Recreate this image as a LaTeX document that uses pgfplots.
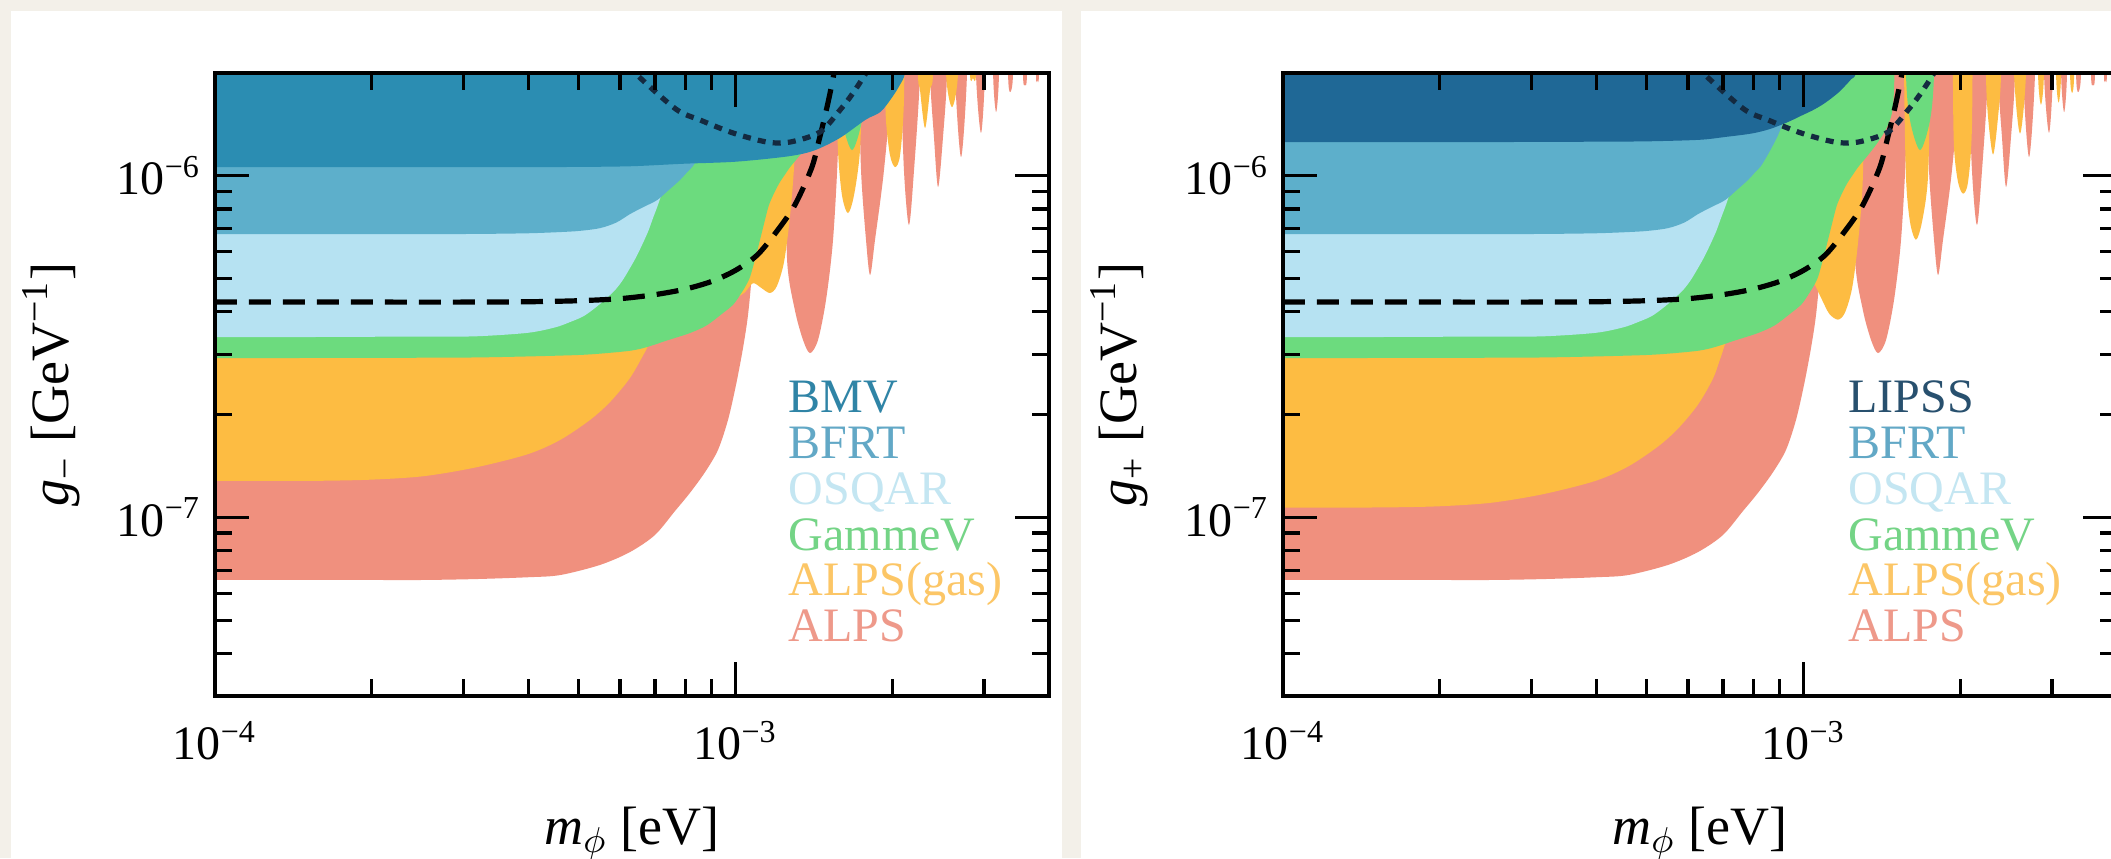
\documentclass[border=0pt]{standalone}
\usepackage{fontspec}
\setmainfont{Liberation Serif}
\newfontfamily\legfam{Liberation Serif}
\usepackage{pgfplots}
\pgfplotsset{compat=1.18}
\definecolor{bgbeige}{HTML}{F3F0E9}
\definecolor{cbmv}{HTML}{2B8DB2}
\definecolor{clipss}{HTML}{1F6896}
\definecolor{cbfrt}{HTML}{5DAFCB}
\definecolor{cosqar}{HTML}{B6E2F2}
\definecolor{cgam}{HTML}{6CDB7E}
\definecolor{cgas}{HTML}{FDBC42}
\definecolor{calps}{HTML}{F0907E}
\definecolor{tbmv}{HTML}{2F84A6}
\definecolor{tlipss}{HTML}{28506E}
\definecolor{tbfrt}{HTML}{62A8C6}
\definecolor{tosqar}{HTML}{C4E6F2}
\definecolor{tgam}{HTML}{74D486}
\definecolor{tgas}{HTML}{FCC666}
\definecolor{talps}{HTML}{EE998A}
\definecolor{dotcol}{HTML}{142A40}
\newcommand\tickfont{\legfam\fontsize{12}{14}\selectfont}
\newcommand\labfont{\legfam\fontsize{13.5}{16}\selectfont}
\newcommand\legfont{\legfam\fontsize{12}{12}\selectfont}
\begin{document}
\begin{tikzpicture}
\useasboundingbox (0,0) rectangle (527.75pt,214.5pt);
\clip (0,0) rectangle (527.75pt,214.5pt);
\fill[bgbeige] (0,0) rectangle (527.75pt,214.5pt);
\fill[white] (2.75pt,0) rectangle (265.5pt,211.75pt);
\fill[white] (270.25pt,0) rectangle (527.75pt,211.75pt);

% ================= LEFT PANEL (g-) =================
\begin{axis}[at={(53.75pt,40.5pt)}, anchor=south west,
    scale only axis, width=208.5pt, height=155.75pt,
    xmode=log, ymode=log, xmin=1e-4, xmax=4e-3, ymin=3e-8, ymax=2e-6,
    axis on top,
    axis line style={line width=1pt, black},
    tick align=inside, major tick length=8.5pt, minor tick length=4.25pt,
    every tick/.style={black, line width=0.8pt},
    xtick={1e-4,1e-3}, xticklabels={10\textsuperscript{−4},10\textsuperscript{−3}},
    ytick={1e-7,1e-6}, yticklabels={10\textsuperscript{−7},10\textsuperscript{−6}},
    minor xtick={2e-4,3e-4,4e-4,5e-4,6e-4,7e-4,8e-4,9e-4,2e-3,3e-3},
    minor ytick={4e-8,5e-8,6e-8,7e-8,8e-8,9e-8,2e-7,3e-7,4e-7,5e-7,6e-7,7e-7,8e-7,9e-7},
    tick label style={font=\tickfont},
    xticklabel style={yshift=-2.75pt},
    xlabel style={at={(axis description cs:0.5,-0.22)}, anchor=center, font=\labfont},
    ylabel style={at={(axis description cs:-0.196,0.5)}, anchor=center, font=\labfont},
    xlabel={\textit{m}\textsubscript{$\phi$} [eV]},
    ylabel={\textit{g}\textsubscript{−} [GeV\textsuperscript{−1}]}]
% ALPS main
\addplot[draw=none, fill=calps, smooth, tension=0.5] coordinates {(0.9e-4,6.56e-8) (1.259e-4,6.56e-8) (1.585e-4,6.56e-8) (1.995e-4,6.56e-8) (2.512e-4,6.56e-8) (3.162e-4,6.60e-8) (3.981e-4,6.68e-8) (4.60e-4,6.78e-8) (5.49e-4,7.26e-8) (6.27e-4,7.92e-8) (7.0e-4,8.88e-8) (7.65e-4,1.044e-7) (8.17e-4,1.179e-7) (8.74e-4,1.358e-7) (9.25e-4,1.575e-7) (9.67e-4,1.928e-7) (1.0019e-3,2.442e-7) (1.0335e-3,3.133e-7) (1.0566e-3,3.913e-7) (1.075e-3,5.19e-7) (1.0896e-3,7.42e-7) (1.099e-3,1.19e-6) (1.102e-3,2.5e-6) (1.104e-3,4e-6) (0.9e-4,4e-6)};
% ALPS resonances
\addplot[draw=none, fill=calps, smooth, tension=0.5] coordinates {(1.250e-3,4e-6) (1.250e-3,2.5e-6) (1.253e-3,1.2e-6) (1.256e-3,5.67e-7) (1.30e-3,4.047e-7) (1.348e-3,3.306e-7) (1.390e-3,3.028e-7) (1.440e-3,3.306e-7) (1.492e-3,4.33e-7) (1.539e-3,6.49e-7) (1.573e-3,1.19e-6) (1.587e-3,2.5e-6) (1.587e-3,4e-6)};
\addplot[draw=none, fill=calps, smooth, tension=0.5] coordinates {(1.727e-3,4e-6) (1.727e-3,2.0e-6) (1.742e-3,1.04e-6) (1.781e-3,6.49e-7) (1.813e-3,5.125e-7) (1.853e-3,6.49e-7) (1.928e-3,1.04e-6) (1.998e-3,2.0e-6) (1.998e-3,4e-6)};
\addplot[draw=none, fill=calps, smooth, tension=0.5] coordinates {(2.079e-3,4e-6) (2.079e-3,2.0e-6) (2.106e-3,1.04e-6) (2.153e-3,7.18e-7) (2.202e-3,1.04e-6) (2.261e-3,2.0e-6) (2.261e-3,4e-6)};
\addplot[draw=none, fill=calps, smooth, tension=0.5] coordinates {(2.364e-3,4e-6) (2.364e-3,2.0e-6) (2.405e-3,1.299e-6) (2.449e-3,9.27e-7) (2.503e-3,1.299e-6) (2.548e-3,2.0e-6) (2.548e-3,4e-6)};
\addplot[draw=none, fill=calps, smooth, tension=0.5] coordinates {(2.640e-3,4e-6) (2.640e-3,2.0e-6) (2.711e-3,1.135e-6) (2.784e-3,2.0e-6) (2.784e-3,4e-6)};
\addplot[draw=none, fill=calps, smooth, tension=0.5] coordinates {(2.896e-3,4e-6) (2.896e-3,2.0e-6) (2.961e-3,1.335e-6) (3.013e-3,2.0e-6) (3.013e-3,4e-6)};
\addplot[draw=none, fill=calps, smooth, tension=0.5] coordinates {(3.124e-3,4e-6) (3.124e-3,2.0e-6) (3.166e-3,1.537e-6) (3.207e-3,2.0e-6) (3.207e-3,4e-6)};
\addplot[draw=none, fill=calps, smooth, tension=0.5] coordinates {(3.338e-3,4e-6) (3.338e-3,2.0e-6) (3.368e-3,1.759e-6) (3.412e-3,2.0e-6) (3.412e-3,4e-6)};
\addplot[draw=none, fill=calps, smooth, tension=0.5] coordinates {(3.565e-3,4e-6) (3.565e-3,2.0e-6) (3.597e-3,1.845e-6) (3.63e-3,2.0e-6) (3.63e-3,4e-6)};
\addplot[draw=none, fill=calps, smooth, tension=0.5] coordinates {(3.777e-3,4e-6) (3.777e-3,2.0e-6) (3.794e-3,1.907e-6) (3.828e-3,2.0e-6) (3.828e-3,4e-6)};
% ALPS(gas)
\addplot[draw=none, fill=cgas, smooth, tension=0.5] coordinates {(0.9e-4,1.279e-7) (1.259e-4,1.279e-7) (1.585e-4,1.28e-7) (1.995e-4,1.29e-7) (2.512e-4,1.32e-7) (3.162e-4,1.40e-7) (3.981e-4,1.53e-7) (4.60e-4,1.685e-7) (5.25e-4,1.928e-7) (5.74e-4,2.177e-7) (6.27e-4,2.56e-7) (6.699e-4,3.049e-7) (6.91e-4,3.306e-7) (7.4e-4,3.5e-7) (8.0e-4,3.7e-7) (8.6e-4,3.9e-7) (9.2e-4,4.1e-7) (9.8e-4,4.3e-7) (1.04e-3,4.55e-7) (1.08e-3,4.85e-7) (1.12e-3,4.7e-7) (1.164e-3,4.54e-7) (1.20e-3,4.75e-7) (1.239e-3,5.594e-7) (1.273e-3,7.68e-7) (1.30e-3,1.19e-6) (1.31e-3,2.5e-6) (1.312e-3,4e-6) (0.9e-4,4e-6)};
\addplot[draw=none, fill=cgas, smooth, tension=0.5] coordinates {(1.560e-3,4e-6) (1.560e-3,2.0e-6) (1.573e-3,1.19e-6) (1.601e-3,8.786e-7) (1.644e-3,7.78e-7) (1.689e-3,8.786e-7) (1.734e-3,1.19e-6) (1.750e-3,2.0e-6) (1.750e-3,4e-6)};
\addplot[draw=none, fill=cgas, smooth, tension=0.5] coordinates {(1.936e-3,4e-6) (1.936e-3,2.0e-6) (1.945e-3,1.457e-6) (1.980e-3,1.15e-6) (2.025e-3,1.061e-6) (2.070e-3,1.15e-6) (2.106e-3,1.667e-6) (2.116e-3,4e-6)};
\addplot[draw=none, fill=cgas, smooth, tension=0.5] coordinates {(2.241e-3,4e-6) (2.241e-3,2.0e-6) (2.261e-3,1.783e-6) (2.312e-3,1.38e-6) (2.364e-3,1.783e-6) (2.395e-3,2.0e-6) (2.395e-3,4e-6)};
\addplot[draw=none, fill=cgas, smooth, tension=0.5] coordinates {(2.537e-3,4e-6) (2.537e-3,2.0e-6) (2.605e-3,1.59e-6) (2.675e-3,2.0e-6) (2.675e-3,4e-6)};
\addplot[draw=none, fill=cgas, smooth, tension=0.5] coordinates {(2.821e-3,4e-6) (2.821e-3,2.0e-6) (2.858e-3,1.933e-6) (2.896e-3,2.0e-6) (2.896e-3,4e-6)};
% GammeV
\addplot[draw=none, fill=cgam, smooth, tension=0.5] coordinates {(0.9e-4,2.928e-7) (1.259e-4,2.928e-7) (1.585e-4,2.93e-7) (1.995e-4,2.93e-7) (2.512e-4,2.935e-7) (3.162e-4,2.94e-7) (3.981e-4,2.96e-7) (5.012e-4,2.99e-7) (5.66e-4,3.028e-7) (6.31e-4,3.08e-7) (6.76e-4,3.154e-7) (7.4e-4,3.3e-7) (8.17e-4,3.465e-7) (8.8e-4,3.65e-7) (9.46e-4,3.966e-7) (9.9e-4,4.2e-7) (1.02e-3,4.478e-7) (1.045e-3,4.75e-7) (1.066e-3,5.055e-7) (1.09e-3,5.7e-7) (1.114e-3,6.49e-7) (1.137e-3,7.35e-7) (1.159e-3,8.21e-7) (1.19e-3,9.0e-7) (1.217e-3,9.59e-7) (1.245e-3,1.01e-6) (1.273e-3,1.061e-6) (1.33e-3,1.15e-6) (1.390e-3,1.256e-6) (1.446e-3,1.389e-6) (1.486e-3,1.611e-6) (1.50e-3,2.5e-6) (1.505e-3,4e-6) (0.9e-4,4e-6)};
\addplot[draw=none, fill=cgam, smooth, tension=0.5] coordinates {(1.573e-3,4e-6) (1.573e-3,2.0e-6) (1.601e-3,1.457e-6) (1.674e-3,1.19e-6) (1.750e-3,1.457e-6) (1.781e-3,2.0e-6) (1.781e-3,4e-6)};
% OSQAR
\addplot[draw=none, fill=cosqar, smooth, tension=0.5] coordinates {(0.9e-4,3.373e-7) (1.259e-4,3.373e-7) (1.585e-4,3.375e-7) (1.995e-4,3.38e-7) (2.512e-4,3.385e-7) (3.162e-4,3.39e-7) (3.981e-4,3.47e-7) (4.5e-4,3.6e-7) (4.808e-4,3.733e-7) (5.1e-4,3.88e-7) (5.37e-4,4.102e-7) (5.6e-4,4.33e-7) (5.868e-4,4.63e-7) (6.07e-4,4.95e-7) (6.27e-4,5.372e-7) (6.45e-4,5.8e-7) (6.64e-4,6.36e-7) (6.8e-4,6.9e-7) (6.94e-4,7.52e-7) (7.07e-4,8.1e-7) (7.19e-4,8.727e-7) (7.3e-4,9.4e-7) (7.384e-4,1.04e-6) (7.45e-4,1.2e-6) (7.52e-4,1.457e-6) (7.55e-4,2.5e-6) (7.58e-4,4e-6) (0.9e-4,4e-6)};
% BFRT
\addplot[draw=none, fill=cbfrt, smooth, tension=0.5] coordinates {(0.9e-4,6.755e-7) (1.259e-4,6.755e-7) (1.585e-4,6.755e-7) (1.995e-4,6.755e-7) (2.512e-4,6.755e-7) (3.162e-4,6.76e-7) (3.981e-4,6.79e-7) (4.60e-4,6.846e-7) (5.012e-4,6.9e-7) (5.49e-4,7.03e-7) (5.9e-4,7.3e-7) (6.27e-4,7.73e-7) (6.65e-4,8.1e-7) (7.07e-4,8.495e-7) (7.45e-4,9.1e-7) (7.82e-4,9.72e-7) (8.05e-4,1.02e-6) (8.28e-4,1.068e-6) (8.5e-4,1.14e-6) (8.74e-4,1.231e-6) (8.92e-4,1.31e-6) (9.09e-4,1.408e-6) (9.22e-4,1.52e-6) (9.33e-4,1.667e-6) (9.46e-4,2.0e-6) (9.5e-4,2.5e-6) (9.54e-4,4e-6) (0.9e-4,4e-6)};
% BMV
\addplot[draw=none, fill=cbmv, smooth, tension=0.5] coordinates {(0.9e-4,1.061e-6) (1.259e-4,1.061e-6) (1.585e-4,1.061e-6) (1.995e-4,1.061e-6) (2.512e-4,1.061e-6) (3.162e-4,1.061e-6) (3.981e-4,1.061e-6) (5.012e-4,1.062e-6) (6.31e-4,1.067e-6) (7.943e-4,1.085e-6) (1.0e-3,1.10e-6) (1.259e-3,1.14e-6) (1.413e-3,1.185e-6) (1.585e-3,1.29e-6) (1.778e-3,1.46e-6) (1.9e-3,1.54e-6) (2.0e-3,1.70e-6) (2.07e-3,1.85e-6) (2.116e-3,2.0e-6) (2.15e-3,2.5e-6) (2.17e-3,4e-6) (0.9e-4,4e-6)};
% dashed and dotted curves
\addplot[black, line width=1.3pt, dash pattern=on 5.5pt off 3pt, smooth, tension=0.5] coordinates {(1e-4,4.27e-7) (2e-4,4.27e-7) (3e-4,4.27e-7) (4e-4,4.28e-7) (5e-4,4.31e-7) (6e-4,4.37e-7) (7e-4,4.49e-7) (8e-4,4.66e-7) (9e-4,4.91e-7) (1e-3,5.29e-7) (1.1e-3,5.86e-7) (1.2e-3,6.88e-7) (1.3e-3,8.22e-7) (1.4e-3,1.055e-6) (1.45e-3,1.29e-6) (1.5e-3,1.6e-6) (1.54e-3,1.94e-6) (1.56e-3,2.2e-6)};
\addplot[dotcol, line width=1.3pt, dash pattern=on 2pt off 1.8pt, smooth] coordinates {(6.27e-4,2.11e-6) (6.41e-4,2.0e-6) (7.68e-4,1.569e-6) (8.55e-4,1.457e-6) (9.89e-4,1.335e-6) (1.149e-3,1.256e-6) (1.273e-3,1.256e-6) (1.452e-3,1.343e-6) (1.587e-3,1.558e-6) (1.681e-3,1.747e-6) (1.781e-3,2.0e-6) (1.813e-3,2.11e-6)};
\end{axis}

% ================= RIGHT PANEL (g+) =================
\begin{axis}[at={(320.75pt,40.5pt)}, anchor=south west,
    scale only axis, width=208.5pt, height=155.75pt,
    xmode=log, ymode=log, xmin=1e-4, xmax=4e-3, ymin=3e-8, ymax=2e-6,
    axis on top,
    axis line style={line width=1pt, black},
    tick align=inside, major tick length=8.5pt, minor tick length=4.25pt,
    every tick/.style={black, line width=0.8pt},
    xtick={1e-4,1e-3}, xticklabels={10\textsuperscript{−4},10\textsuperscript{−3}},
    ytick={1e-7,1e-6}, yticklabels={10\textsuperscript{−7},10\textsuperscript{−6}},
    minor xtick={2e-4,3e-4,4e-4,5e-4,6e-4,7e-4,8e-4,9e-4,2e-3,3e-3},
    minor ytick={4e-8,5e-8,6e-8,7e-8,8e-8,9e-8,2e-7,3e-7,4e-7,5e-7,6e-7,7e-7,8e-7,9e-7},
    tick label style={font=\tickfont},
    xticklabel style={yshift=-2.75pt},
    xlabel style={at={(axis description cs:0.5,-0.22)}, anchor=center, font=\labfont},
    ylabel style={at={(axis description cs:-0.196,0.5)}, anchor=center, font=\labfont},
    xlabel={\textit{m}\textsubscript{$\phi$} [eV]},
    ylabel={\textit{g}\textsubscript{+} [GeV\textsuperscript{−1}]}]
\addplot[draw=none, fill=calps, smooth, tension=0.5] coordinates {(0.9e-4,6.56e-8) (1.259e-4,6.56e-8) (1.585e-4,6.56e-8) (1.995e-4,6.56e-8) (2.512e-4,6.56e-8) (3.162e-4,6.60e-8) (3.981e-4,6.68e-8) (4.60e-4,6.78e-8) (5.49e-4,7.26e-8) (6.27e-4,7.92e-8) (7.0e-4,8.88e-8) (7.65e-4,1.044e-7) (8.17e-4,1.179e-7) (8.74e-4,1.358e-7) (9.25e-4,1.575e-7) (9.67e-4,1.928e-7) (1.0019e-3,2.442e-7) (1.0335e-3,3.133e-7) (1.0566e-3,3.913e-7) (1.075e-3,5.19e-7) (1.0896e-3,7.42e-7) (1.099e-3,1.19e-6) (1.102e-3,2.5e-6) (1.104e-3,4e-6) (0.9e-4,4e-6)};
\addplot[draw=none, fill=calps, smooth, tension=0.5] coordinates {(1.250e-3,4e-6) (1.250e-3,2.5e-6) (1.253e-3,1.2e-6) (1.256e-3,5.67e-7) (1.30e-3,4.047e-7) (1.348e-3,3.306e-7) (1.390e-3,3.028e-7) (1.440e-3,3.306e-7) (1.492e-3,4.33e-7) (1.539e-3,6.49e-7) (1.573e-3,1.19e-6) (1.587e-3,2.5e-6) (1.587e-3,4e-6)};
\addplot[draw=none, fill=calps, smooth, tension=0.5] coordinates {(1.727e-3,4e-6) (1.727e-3,2.0e-6) (1.742e-3,1.04e-6) (1.781e-3,6.49e-7) (1.813e-3,5.125e-7) (1.853e-3,6.49e-7) (1.928e-3,1.04e-6) (1.998e-3,2.0e-6) (1.998e-3,4e-6)};
\addplot[draw=none, fill=calps, smooth, tension=0.5] coordinates {(2.079e-3,4e-6) (2.079e-3,2.0e-6) (2.106e-3,1.04e-6) (2.153e-3,7.18e-7) (2.202e-3,1.04e-6) (2.261e-3,2.0e-6) (2.261e-3,4e-6)};
\addplot[draw=none, fill=calps, smooth, tension=0.5] coordinates {(2.364e-3,4e-6) (2.364e-3,2.0e-6) (2.405e-3,1.299e-6) (2.449e-3,9.27e-7) (2.503e-3,1.299e-6) (2.548e-3,2.0e-6) (2.548e-3,4e-6)};
\addplot[draw=none, fill=calps, smooth, tension=0.5] coordinates {(2.640e-3,4e-6) (2.640e-3,2.0e-6) (2.711e-3,1.135e-6) (2.784e-3,2.0e-6) (2.784e-3,4e-6)};
\addplot[draw=none, fill=calps, smooth, tension=0.5] coordinates {(2.896e-3,4e-6) (2.896e-3,2.0e-6) (2.961e-3,1.335e-6) (3.013e-3,2.0e-6) (3.013e-3,4e-6)};
\addplot[draw=none, fill=calps, smooth, tension=0.5] coordinates {(3.124e-3,4e-6) (3.124e-3,2.0e-6) (3.166e-3,1.537e-6) (3.207e-3,2.0e-6) (3.207e-3,4e-6)};
\addplot[draw=none, fill=calps, smooth, tension=0.5] coordinates {(3.338e-3,4e-6) (3.338e-3,2.0e-6) (3.368e-3,1.759e-6) (3.412e-3,2.0e-6) (3.412e-3,4e-6)};
\addplot[draw=none, fill=calps, smooth, tension=0.5] coordinates {(3.565e-3,4e-6) (3.565e-3,2.0e-6) (3.597e-3,1.845e-6) (3.63e-3,2.0e-6) (3.63e-3,4e-6)};
\addplot[draw=none, fill=calps, smooth, tension=0.5] coordinates {(3.777e-3,4e-6) (3.777e-3,2.0e-6) (3.794e-3,1.907e-6) (3.828e-3,2.0e-6) (3.828e-3,4e-6)};
% ALPS(gas), lower for g+
\addplot[draw=none, fill=cgas, smooth, tension=0.5] coordinates {(0.9e-4,1.069e-7) (1.259e-4,1.069e-7) (1.585e-4,1.070e-7) (1.995e-4,1.078e-7) (2.512e-4,1.104e-7) (3.162e-4,1.170e-7) (3.981e-4,1.279e-7) (4.60e-4,1.409e-7) (5.25e-4,1.612e-7) (5.74e-4,1.820e-7) (6.27e-4,2.140e-7) (6.699e-4,2.549e-7) (6.91e-4,2.9e-7) (7.2e-4,3.45e-7) (7.6e-4,3.8e-7) (8.2e-4,4.1e-7) (9.0e-4,4.6e-7) (9.8e-4,5.0e-7) (1.04e-3,4.9e-7) (1.08e-3,4.4e-7) (1.12e-3,3.95e-7) (1.164e-3,3.795e-7) (1.20e-3,3.97e-7) (1.239e-3,4.677e-7) (1.273e-3,6.42e-7) (1.30e-3,9.95e-7) (1.31e-3,2.5e-6) (1.312e-3,4e-6) (0.9e-4,4e-6)};
\addplot[draw=none, fill=cgas, smooth, tension=0.5] coordinates {(1.560e-3,4e-6) (1.560e-3,2.0e-6) (1.573e-3,9.95e-7) (1.601e-3,7.345e-7) (1.644e-3,6.50e-7) (1.689e-3,7.345e-7) (1.734e-3,9.95e-7) (1.750e-3,2.0e-6) (1.750e-3,4e-6)};
\addplot[draw=none, fill=cgas, smooth, tension=0.5] coordinates {(1.936e-3,4e-6) (1.936e-3,2.0e-6) (1.945e-3,1.218e-6) (1.980e-3,9.61e-7) (2.025e-3,8.87e-7) (2.070e-3,9.61e-7) (2.106e-3,1.394e-6) (2.116e-3,4e-6)};
\addplot[draw=none, fill=cgas, smooth, tension=0.5] coordinates {(2.241e-3,4e-6) (2.241e-3,2.0e-6) (2.261e-3,1.491e-6) (2.312e-3,1.154e-6) (2.364e-3,1.491e-6) (2.395e-3,2.0e-6) (2.395e-3,4e-6)};
\addplot[draw=none, fill=cgas, smooth, tension=0.5] coordinates {(2.537e-3,4e-6) (2.537e-3,2.0e-6) (2.605e-3,1.329e-6) (2.675e-3,2.0e-6) (2.675e-3,4e-6)};
\addplot[draw=none, fill=cgas, smooth, tension=0.5] coordinates {(2.821e-3,4e-6) (2.821e-3,2.0e-6) (2.858e-3,1.616e-6) (2.896e-3,2.0e-6) (2.896e-3,4e-6)};
\addplot[draw=none, fill=cgas, smooth, tension=0.5] coordinates {(3.055e-3,4e-6) (3.055e-3,2.0e-6) (3.09e-3,1.64e-6) (3.124e-3,2.0e-6) (3.124e-3,4e-6)};
\addplot[draw=none, fill=cgas, smooth, tension=0.5] coordinates {(3.25e-3,4e-6) (3.25e-3,2.0e-6) (3.28e-3,1.75e-6) (3.31e-3,2.0e-6) (3.31e-3,4e-6)};
% GammeV
\addplot[draw=none, fill=cgam, smooth, tension=0.5] coordinates {(0.9e-4,2.928e-7) (1.259e-4,2.928e-7) (1.585e-4,2.93e-7) (1.995e-4,2.93e-7) (2.512e-4,2.935e-7) (3.162e-4,2.94e-7) (3.981e-4,2.96e-7) (5.012e-4,2.99e-7) (5.66e-4,3.028e-7) (6.31e-4,3.08e-7) (6.76e-4,3.154e-7) (7.4e-4,3.3e-7) (8.17e-4,3.465e-7) (8.8e-4,3.65e-7) (9.46e-4,3.966e-7) (9.9e-4,4.2e-7) (1.02e-3,4.478e-7) (1.045e-3,4.75e-7) (1.066e-3,5.055e-7) (1.09e-3,5.7e-7) (1.114e-3,6.49e-7) (1.137e-3,7.35e-7) (1.159e-3,8.21e-7) (1.19e-3,9.0e-7) (1.217e-3,9.59e-7) (1.245e-3,1.01e-6) (1.273e-3,1.061e-6) (1.33e-3,1.15e-6) (1.390e-3,1.256e-6) (1.446e-3,1.389e-6) (1.486e-3,1.611e-6) (1.50e-3,2.5e-6) (1.505e-3,4e-6) (0.9e-4,4e-6)};
\addplot[draw=none, fill=cgam, smooth, tension=0.5] coordinates {(1.573e-3,4e-6) (1.573e-3,2.0e-6) (1.601e-3,1.457e-6) (1.674e-3,1.19e-6) (1.750e-3,1.457e-6) (1.781e-3,2.0e-6) (1.781e-3,4e-6)};
% OSQAR
\addplot[draw=none, fill=cosqar, smooth, tension=0.5] coordinates {(0.9e-4,3.373e-7) (1.259e-4,3.373e-7) (1.585e-4,3.375e-7) (1.995e-4,3.38e-7) (2.512e-4,3.385e-7) (3.162e-4,3.39e-7) (3.981e-4,3.47e-7) (4.5e-4,3.6e-7) (4.808e-4,3.733e-7) (5.1e-4,3.88e-7) (5.37e-4,4.102e-7) (5.6e-4,4.33e-7) (5.868e-4,4.63e-7) (6.07e-4,4.95e-7) (6.27e-4,5.372e-7) (6.45e-4,5.8e-7) (6.64e-4,6.36e-7) (6.8e-4,6.9e-7) (6.94e-4,7.52e-7) (7.07e-4,8.1e-7) (7.19e-4,8.727e-7) (7.3e-4,9.4e-7) (7.384e-4,1.04e-6) (7.45e-4,1.2e-6) (7.52e-4,1.457e-6) (7.55e-4,2.5e-6) (7.58e-4,4e-6) (0.9e-4,4e-6)};
% BFRT
\addplot[draw=none, fill=cbfrt, smooth, tension=0.5] coordinates {(0.9e-4,6.755e-7) (1.259e-4,6.755e-7) (1.585e-4,6.755e-7) (1.995e-4,6.755e-7) (2.512e-4,6.755e-7) (3.162e-4,6.76e-7) (3.981e-4,6.79e-7) (4.60e-4,6.846e-7) (5.012e-4,6.9e-7) (5.49e-4,7.03e-7) (5.9e-4,7.3e-7) (6.27e-4,7.73e-7) (6.65e-4,8.1e-7) (7.07e-4,8.495e-7) (7.45e-4,9.1e-7) (7.82e-4,9.72e-7) (8.05e-4,1.02e-6) (8.28e-4,1.068e-6) (8.5e-4,1.14e-6) (8.74e-4,1.231e-6) (8.92e-4,1.31e-6) (9.09e-4,1.408e-6) (9.22e-4,1.52e-6) (9.33e-4,1.667e-6) (9.46e-4,2.0e-6) (9.5e-4,2.5e-6) (9.54e-4,4e-6) (0.9e-4,4e-6)};
% LIPSS
\addplot[draw=none, fill=clipss, smooth, tension=0.5] coordinates {(0.9e-4,1.256e-6) (1.259e-4,1.256e-6) (1.585e-4,1.256e-6) (1.995e-4,1.256e-6) (2.512e-4,1.256e-6) (3.162e-4,1.257e-6) (3.981e-4,1.259e-6) (5.012e-4,1.262e-6) (6.31e-4,1.275e-6) (7.079e-4,1.30e-6) (7.943e-4,1.33e-6) (8.6e-4,1.37e-6) (9.33e-4,1.437e-6) (9.9e-4,1.5e-6) (1.043e-3,1.558e-6) (1.09e-3,1.62e-6) (1.139e-3,1.701e-6) (1.175e-3,1.77e-6) (1.206e-3,1.845e-6) (1.235e-3,1.92e-6) (1.261e-3,2.0e-6) (1.29e-3,2.5e-6) (1.31e-3,4e-6) (0.9e-4,4e-6)};
\addplot[black, line width=1.3pt, dash pattern=on 5.5pt off 3pt, smooth, tension=0.5] coordinates {(1e-4,4.27e-7) (2e-4,4.27e-7) (3e-4,4.27e-7) (4e-4,4.28e-7) (5e-4,4.31e-7) (6e-4,4.37e-7) (7e-4,4.49e-7) (8e-4,4.66e-7) (9e-4,4.91e-7) (1e-3,5.29e-7) (1.1e-3,5.86e-7) (1.2e-3,6.88e-7) (1.3e-3,8.22e-7) (1.4e-3,1.055e-6) (1.45e-3,1.29e-6) (1.5e-3,1.6e-6) (1.54e-3,1.94e-6) (1.56e-3,2.2e-6)};
\addplot[dotcol, line width=1.3pt, dash pattern=on 2pt off 1.8pt, smooth] coordinates {(6.27e-4,2.11e-6) (6.41e-4,2.0e-6) (7.68e-4,1.569e-6) (8.55e-4,1.457e-6) (9.89e-4,1.335e-6) (1.149e-3,1.256e-6) (1.273e-3,1.256e-6) (1.452e-3,1.343e-6) (1.587e-3,1.558e-6) (1.681e-3,1.747e-6) (1.781e-3,2.0e-6) (1.813e-3,2.11e-6)};
\end{axis}

% ---- legends (text) ----
\begin{scope}[every node/.style={anchor=base west, font=\legfont, inner sep=0pt}]
\node[text=tbmv]   at (197pt,111.25pt) {BMV};
\node[text=tbfrt]  at (197pt,99.82pt) {BFRT};
\node[text=tosqar] at (197pt,88.4pt) {OSQAR};
\node[text=tgam]   at (197pt,76.97pt) {GammeV};
\node[text=tgas]   at (197pt,65.55pt) {ALPS(gas)};
\node[text=talps]  at (197pt,54.12pt) {ALPS};
\node[text=tlipss] at (461.9pt,111.25pt) {LIPSS};
\node[text=tbfrt]  at (461.9pt,99.82pt) {BFRT};
\node[text=tosqar] at (461.9pt,88.4pt) {OSQAR};
\node[text=tgam]   at (461.9pt,76.97pt) {GammeV};
\node[text=tgas]   at (461.9pt,65.55pt) {ALPS(gas)};
\node[text=talps]  at (461.9pt,54.12pt) {ALPS};
\end{scope}
\end{tikzpicture}
\end{document}
